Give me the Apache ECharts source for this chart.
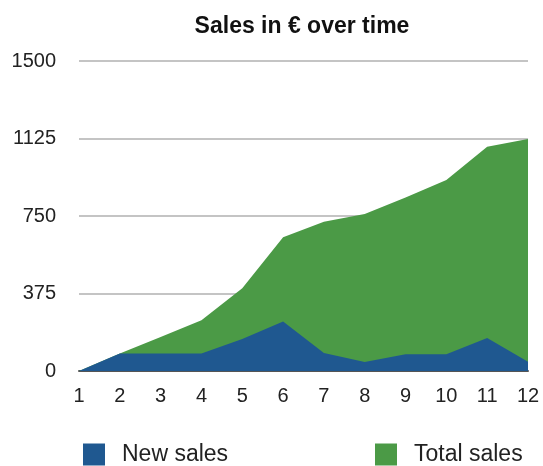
<!DOCTYPE html>
<html>
<head>
<meta charset="utf-8">
<script src="https://cdn.jsdelivr.net/npm/echarts@6/dist/echarts.min.js"></script>
<style>
  html, body { margin: 0; padding: 0; background: #fff; }
  #chart { width: 543px; height: 466px; }
</style>
</head>
<body>
<div id="chart"></div>
<script>
// Months and sales figures (€)
const months = ['1', '2', '3', '4', '5', '6', '7', '8', '9', '10', '11', '12'];
const newSales = [0, 85, 85, 85, 155, 240, 87, 44, 81, 81, 160, 45];
const totalSales = [0, 85, 165, 245, 400, 647, 722, 760, 840, 924, 1085, 1122];
const yTicks = [0, 375, 750, 1125, 1500];

const BLUE = '#1f5890';
const GREEN = '#4b9a46';
const FONT = '"Liberation Sans", Arial, Helvetica, sans-serif';

const chart = echarts.init(document.getElementById('chart'), null, { renderer: 'canvas' });

chart.setOption({
  animation: false,
  backgroundColor: '#ffffff',
  title: {
    text: 'Sales in € over time',
    left: 302,
    textAlign: 'center',
    top: 15,
    padding: 0,
    textStyle: { fontFamily: FONT, fontSize: 23, fontWeight: 'bold', color: '#111' }
  },
  legend: [
    {
      data: ['New sales'],
      left: 83, top: 443, padding: 0,
      itemWidth: 22, itemHeight: 22, icon: 'rect',
      textStyle: { fontFamily: FONT, fontSize: 23, color: '#222', padding: [0, 0, 0, 12] }
    },
    {
      data: ['Total sales'],
      left: 375, top: 443, padding: 0,
      itemWidth: 22, itemHeight: 22, icon: 'rect',
      textStyle: { fontFamily: FONT, fontSize: 23, color: '#222', padding: [0, 0, 0, 12] }
    }
  ],
  grid: { left: 79, right: 15, top: 61, bottom: 95, containLabel: false },
  xAxis: {
    type: 'category',
    data: months,
    boundaryGap: false,
    axisLine: { lineStyle: { color: '#555', width: 2 } },
    axisTick: { show: false },
    axisLabel: { fontFamily: FONT, fontSize: 20, color: '#222', margin: 15 },
    splitLine: { show: false }
  },
  yAxis: {
    type: 'value',
    min: yTicks[0],
    max: yTicks[yTicks.length - 1],
    interval: yTicks[1] - yTicks[0],
    axisLine: { show: false },
    axisTick: { show: false },
    axisLabel: {
      fontFamily: FONT, fontSize: 20, color: '#222', margin: 23,
      formatter: (v) => String(v)
    },
    splitLine: { lineStyle: { color: '#c4c4c4', width: 2 } }
  },
  series: [
    {
      name: 'Total sales',
      type: 'line',
      data: totalSales,
      symbol: 'none',
      color: GREEN,
      lineStyle: { width: 0 },
      areaStyle: { color: GREEN, opacity: 1 },
      z: 2
    },
    {
      name: 'New sales',
      type: 'line',
      data: newSales,
      symbol: 'none',
      color: BLUE,
      lineStyle: { width: 0 },
      areaStyle: { color: BLUE, opacity: 1 },
      z: 3
    }
  ]
});
</script>
</body>
</html>
